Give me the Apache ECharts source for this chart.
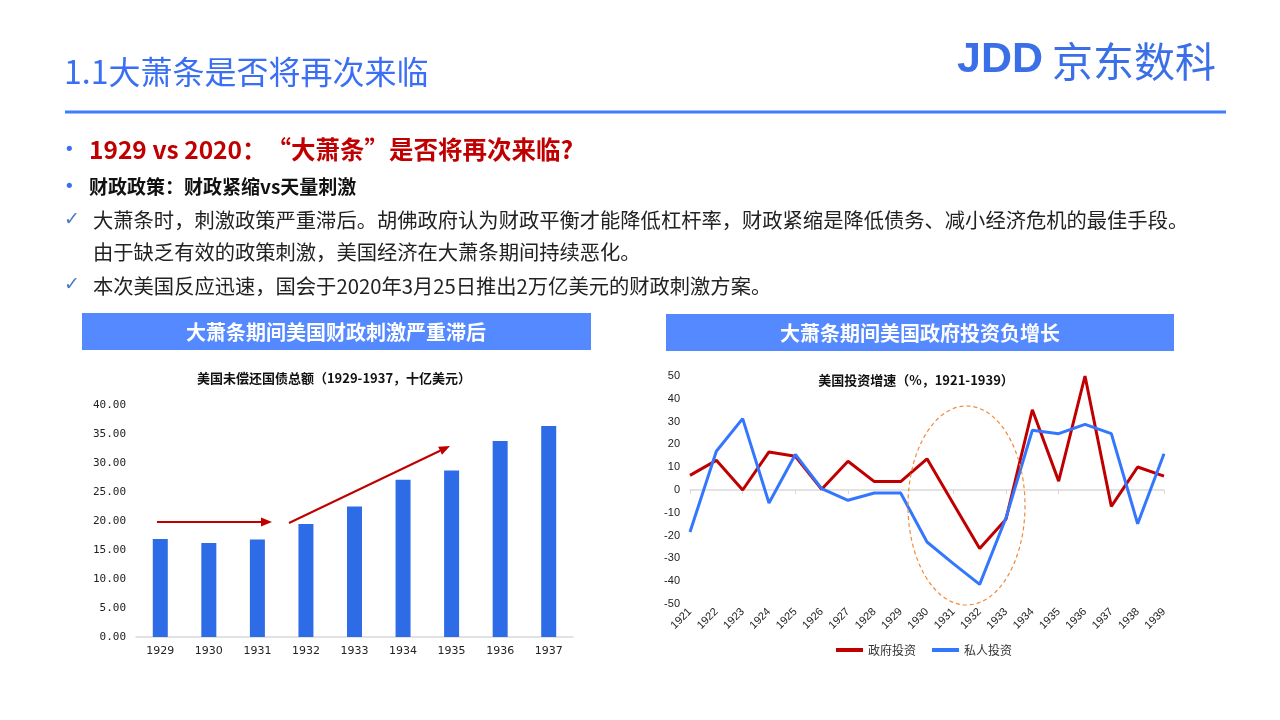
<!DOCTYPE html>
<html>
<head>
<meta charset="utf-8">
<script src="https://cdn.jsdelivr.net/npm/echarts@6/dist/echarts.min.js"></script>
<style>
html,body{margin:0;padding:0;background:#fff;}
#c{width:1280px;height:720px;}
</style>
</head>
<body>
<div id="c"></div>
<script>
// ---- Data ----
const debtYears = ['1929','1930','1931','1932','1933','1934','1935','1936','1937'];
const debtValues = [16.9, 16.2, 16.8, 19.5, 22.5, 27.1, 28.7, 33.8, 36.4];
const debtTicks = [0, 5, 10, 15, 20, 25, 30, 35, 40];

const invYears = ['1921','1922','1923','1924','1925','1926','1927','1928','1929','1930','1931','1932','1933','1934','1935','1936','1937','1938','1939'];
const govInvest = [6.4, 13.0, 0.0, 16.7, 14.8, 0.3, 12.6, 3.7, 3.7, 13.7, -6.0, -25.7, -12.8, 35.2, 3.9, 50.0, -7.2, 10.1, 6.1];
const privInvest = [-18.4, 17.0, 31.3, -5.7, 15.6, 0.6, -4.5, -1.3, -1.3, -22.8, -32.3, -41.4, -12.2, 26.2, 24.7, 28.8, 24.7, -14.8, 15.9];
const invTicks = [-50, -40, -30, -20, -10, 0, 10, 20, 30, 40, 50];

const seriesNames = ['政府投资', '私人投资'];

const pageTitle = '1.1大萧条是否将再次来临';
const bulletLines = [
  '1929 vs 2020：“大萧条”是否将再次来临?',
  '财政政策：财政紧缩vs天量刺激',
  '大萧条时，刺激政策严重滞后。胡佛政府认为财政平衡才能降低杠杆率，财政紧缩是降低债务、减小经济危机的最佳手段。',
  '由于缺乏有效的政策刺激，美国经济在大萧条期间持续恶化。',
  '本次美国反应迅速，国会于2020年3月25日推出2万亿美元的财政刺激方案。'
];
const bannerLeft = '大萧条期间美国财政刺激严重滞后';
const bannerRight = '大萧条期间美国政府投资负增长';
const chartTitleLeft = '美国未偿还国债总额（1929-1937，十亿美元）';
const chartTitleRight = '美国投资增速（%，1921-1939）';

// ---- Chart ----
const CJK = "'Noto Sans CJK SC', 'Noto Sans', sans-serif";
const chart = echarts.init(document.getElementById('c'));

function txt(x, y, text, font, fill, align) {
  return {type: 'text', x: x, y: y, silent: true,
    style: {text: text, font: font, fill: fill, textAlign: align || 'left', textVerticalAlign: 'middle'}};
}
function arrow(x1, y1, x2, y2, color) {
  const ang = Math.atan2(y2 - y1, x2 - x1);
  const L = 11, W = 4.5;
  const bx = x2 - L * Math.cos(ang), by = y2 - L * Math.sin(ang);
  const px = -Math.sin(ang) * W, py = Math.cos(ang) * W;
  return [
    {type: 'line', silent: true, shape: {x1: x1, y1: y1, x2: bx, y2: by}, style: {stroke: color, lineWidth: 2}},
    {type: 'polygon', silent: true, shape: {points: [[x2, y2], [bx + px, by + py], [bx - px, by - py]]}, style: {fill: color}}
  ];
}

const graphics = [
  txt(64, 72, pageTitle, "32px " + CJK, '#3A6EF5'),
  {type: 'line', silent: true, shape: {x1: 65, y1: 112, x2: 1226, y2: 112}, style: {stroke: '#3F7BFF', lineWidth: 3}},
  // logo
  txt(957, 60, 'JDD', "bold 43px 'Liberation Sans', sans-serif", '#3B6FE8'),
  txt(1052, 61, '京东数科', "41px " + CJK, '#3B6FE8'),
  // bullets
  txt(64, 150, '•', "18px 'DejaVu Sans'", '#3A6EF5'),
  txt(89, 150, bulletLines[0], "bold 24.5px " + CJK, '#C00000'),
  txt(64, 187, '•', "18px 'DejaVu Sans'", '#3A6EF5'),
  txt(89, 187, bulletLines[1], "bold 19px " + CJK, '#111'),
  txt(64, 220, '✓', "19px 'DejaVu Sans'", '#4A78C8'),
  txt(93, 220, bulletLines[2], "20.3px " + CJK, '#222'),
  txt(93, 252, bulletLines[3], "20.3px " + CJK, '#222'),
  txt(64, 285, '✓', "19px 'DejaVu Sans'", '#4A78C8'),
  txt(93, 286, bulletLines[4], "20.3px " + CJK, '#222'),
  // banners
  {type: 'rect', silent: true, shape: {x: 82, y: 313, width: 509, height: 37}, style: {fill: '#5589FF'}},
  txt(336, 332, bannerLeft, "bold 20px " + CJK, '#fff', 'center'),
  {type: 'rect', silent: true, shape: {x: 666, y: 314, width: 508, height: 37}, style: {fill: '#5589FF'}},
  txt(920, 333, bannerRight, "bold 20px " + CJK, '#fff', 'center'),
  // chart titles
  txt(334, 378, chartTitleLeft, "bold 13px " + CJK, '#111', 'center'),
  txt(916, 380, chartTitleRight, "bold 13px " + CJK, '#111', 'center'),
  // annotations
  ...arrow(157, 522, 272, 522, '#C00000'),
  ...arrow(289, 523, 450, 446, '#C00000'),
  {type: 'ellipse', silent: true, z: 10, shape: {cx: 966.5, cy: 505.5, rx: 58.5, ry: 99.5},
    style: {fill: 'none', stroke: '#F08A3C', lineWidth: 1.2, lineDash: [4, 3]}}
];

const option = {
  animation: false,
  backgroundColor: '#fff',
  grid: [
    {left: 136, top: 405, width: 437, height: 232},
    {left: 690, top: 376, width: 474, height: 228}
  ],
  legend: {
    data: seriesNames, left: 831, top: 639, itemWidth: 27, itemHeight: 4, itemGap: 16, icon: 'rect',
    textStyle: {fontSize: 12, color: '#333', fontFamily: CJK}
  },
  xAxis: [
    {gridIndex: 0, type: 'category', data: debtYears,
      axisLine: {lineStyle: {color: '#d9d9d9', width: 1.5}},
      axisTick: {length: 5, lineStyle: {color: '#d9d9d9'}},
      axisLabel: {color: '#222', fontSize: 11, margin: 9, fontFamily: "'DejaVu Sans'"}},
    {gridIndex: 1, type: 'category', data: invYears, boundaryGap: false, position: 'bottom',
      axisLine: {onZero: true, lineStyle: {color: '#d9d9d9', width: 1.5}},
      axisTick: {show: true, length: 4, lineStyle: {color: '#d9d9d9'}},
      axisLabel: {show: false}},
    {gridIndex: 1, type: 'category', data: invYears, boundaryGap: false, position: 'bottom',
      axisLine: {show: false, onZero: false}, axisTick: {show: false},
      axisLabel: {rotate: 45, fontSize: 11, color: '#222', margin: 6, fontFamily: "'Liberation Sans'"}}
  ],
  yAxis: [
    {gridIndex: 0, type: 'value', min: debtTicks[0], max: debtTicks[debtTicks.length - 1], interval: 5,
      splitLine: {show: false}, axisLine: {show: false}, axisTick: {show: false},
      axisLabel: {formatter: v => v.toFixed(2), fontFamily: "'DejaVu Sans Mono', monospace", fontSize: 11, color: '#222', margin: 10}},
    {gridIndex: 1, type: 'value', min: invTicks[0], max: invTicks[invTicks.length - 1], interval: 10,
      splitLine: {show: false}, axisLine: {show: false}, axisTick: {show: false},
      axisLabel: {fontSize: 11, color: '#222', margin: 10, fontFamily: "'Liberation Sans'"}}
  ],
  series: [
    {type: 'bar', name: '国债', xAxisIndex: 0, yAxisIndex: 0, data: debtValues, barWidth: 15,
      itemStyle: {color: '#2E6BE6'}},
    {type: 'line', name: seriesNames[0], xAxisIndex: 1, yAxisIndex: 1, data: govInvest,
      symbol: 'none', lineStyle: {color: '#C00000', width: 3}, itemStyle: {color: '#C00000'}},
    {type: 'line', name: seriesNames[1], xAxisIndex: 1, yAxisIndex: 1, data: privInvest,
      symbol: 'none', lineStyle: {color: '#3377FF', width: 3}, itemStyle: {color: '#3377FF'}}
  ],
  graphic: graphics
};
chart.setOption(option);
</script>
</body>
</html>
